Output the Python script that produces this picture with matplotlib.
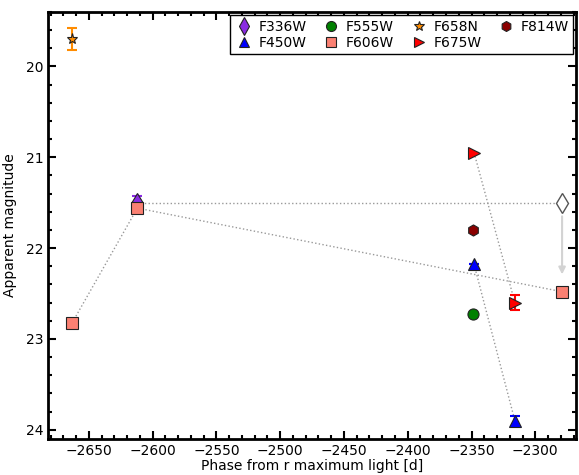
import matplotlib
matplotlib.use("Agg")
import matplotlib.pyplot as plt

# Messwerte je Filter (Phase in Tagen, scheinbare Helligkeit, Fehler)
f336w_phase = [-2612]
f336w_mag = [21.50]
f336w_err = [0.07]
f336w_limit_phase = -2279
f336w_limit_mag = 21.50
f336w_limit_arrow_end = 22.32

f450w_phase = [-2348, -2316]
f450w_mag = [22.18, 23.90]
f450w_err = [0.0, 0.055]

f555w_phase = [-2349]
f555w_mag = [22.73]

f606w_phase = [-2663, -2612, -2279]
f606w_mag = [22.82, 21.56, 22.48]

f658n_phase = [-2663]
f658n_mag = [19.70]
f658n_err = [0.12]

f675w_phase = [-2348, -2316]
f675w_mag = [20.95, 22.60]
f675w_err = [0.0, 0.08]

f814w_phase = [-2349]
f814w_mag = [21.80]

plt.rcParams["font.family"] = "DejaVu Sans"
plt.rcParams["font.size"] = 10

fig = plt.figure(figsize=(5.79, 4.75), dpi=100)
ax = fig.add_axes([0.083, 0.076, 0.912, 0.899])

line_style = dict(color="#999999", linestyle=":", linewidth=1.0, zorder=1)

# Verbindungslinien
ax.plot([f336w_phase[0], f336w_limit_phase], [f336w_mag[0], f336w_limit_mag], **line_style)
ax.plot(f606w_phase, f606w_mag, **line_style)
ax.plot(f450w_phase, f450w_mag, **line_style)
ax.plot(f675w_phase, f675w_mag, **line_style)

# Obere Grenze F336W
ax.plot(f336w_limit_phase, f336w_limit_mag, marker="d", markersize=10, markerfacecolor="white",
        markeredgecolor="#555555", markeredgewidth=1.0, linestyle="none", zorder=3)
ax.annotate("", xy=(f336w_limit_phase, f336w_limit_arrow_end),
            xytext=(f336w_limit_phase, f336w_limit_mag + 0.12),
            arrowprops=dict(arrowstyle="-|>", color="#d3d3d3", lw=1.5, mutation_scale=10), zorder=2)

eb = dict(fmt="none", capsize=3.5, elinewidth=1.5, capthick=1.5, zorder=3)
mk = dict(linestyle="none", markeredgecolor="#222222", markeredgewidth=0.8, zorder=4)

ax.errorbar(f336w_phase, f336w_mag, yerr=f336w_err, ecolor="blueviolet", **eb)
ax.plot(f336w_phase, f336w_mag, marker="d", markersize=10, color="blueviolet", label="F336W", **mk)
ax.errorbar(f450w_phase, f450w_mag, yerr=f450w_err, ecolor="blue", **eb)
ax.plot(f450w_phase, f450w_mag, marker="^", markersize=8, color="blue", label="F450W", **mk)
ax.plot(f555w_phase, f555w_mag, marker="o", markersize=8, color="green", label="F555W", **mk)
ax.plot(f606w_phase, f606w_mag, marker="s", markersize=8, color="salmon", label="F606W", **mk)
ax.errorbar(f658n_phase, f658n_mag, yerr=f658n_err, ecolor="darkorange", **eb)
ax.plot(f658n_phase, f658n_mag, marker="*", markersize=8, color="darkorange", label="F658N", **mk)
ax.errorbar(f675w_phase, f675w_mag, yerr=f675w_err, ecolor="red", **eb)
ax.plot(f675w_phase, f675w_mag, marker=">", markersize=8, color="red", label="F675W", **mk)
ax.plot(f814w_phase, f814w_mag, marker="h", markersize=8, color="darkred", label="F814W", **mk)

ax.set_xlim(-2682, -2268)
ax.set_ylim(24.1, 19.4)
ax.set_xticks([-2650, -2600, -2550, -2500, -2450, -2400, -2350, -2300])
ax.set_yticks([20, 21, 22, 23, 24])
ax.minorticks_on()
ax.xaxis.set_minor_locator(matplotlib.ticker.MultipleLocator(10))
ax.yaxis.set_minor_locator(matplotlib.ticker.MultipleLocator(0.2))
ax.tick_params(which="both", direction="in", top=True, right=True, width=1.5)
ax.tick_params(which="major", length=6)
ax.tick_params(which="minor", length=3)
for s in ax.spines.values():
    s.set_linewidth(2)

ax.set_xlabel("Phase from r maximum light [d]", labelpad=1)
ax.set_ylabel("Apparent magnitude", labelpad=6)

leg = ax.legend(loc="upper right", ncol=4, numpoints=1, fontsize=10, fancybox=False,
                framealpha=1, edgecolor="black", borderaxespad=0.25, handletextpad=0.3,
                columnspacing=1.0, labelspacing=0.15, borderpad=0.3, handlelength=1.5,
                markerscale=0.9)
leg.get_frame().set_linewidth(1.0)

fig.savefig("out.png", dpi=100)
